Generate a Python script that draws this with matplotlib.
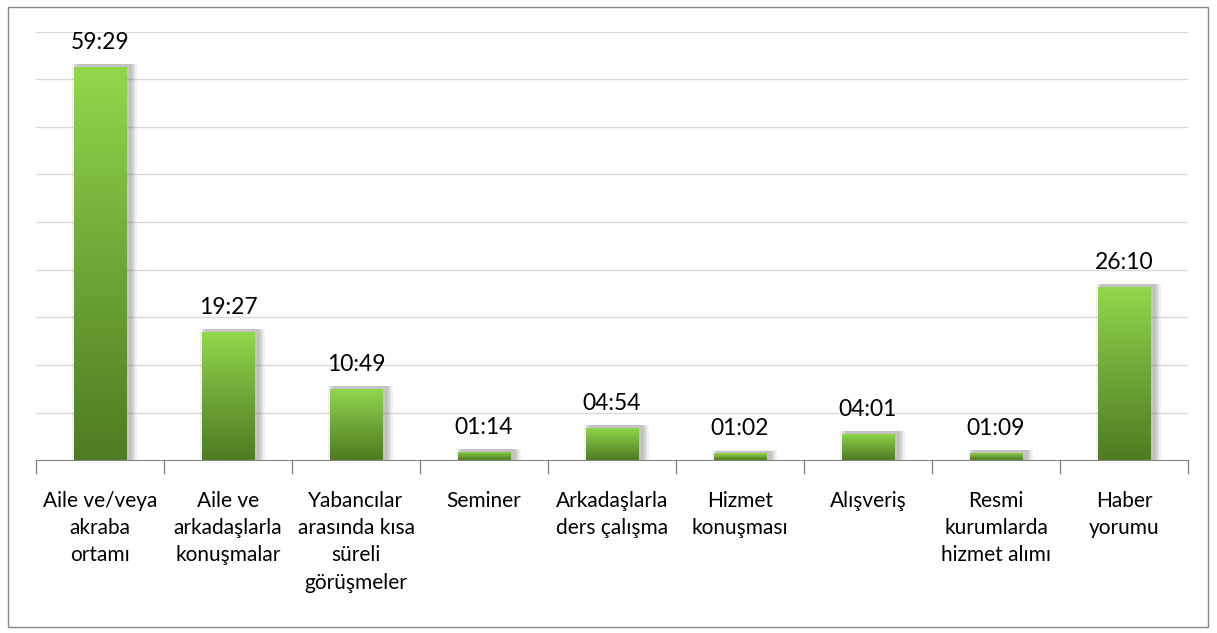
import numpy as np
import matplotlib.pyplot as plt
from matplotlib.patches import Rectangle
from matplotlib.colors import LinearSegmentedColormap

categories = [
    "Aile ve/veya\nakraba\nortamı",
    "Aile ve\narkadaşlarla\nkonuşmalar",
    "Yabancılar\narasında kısa\nsüreli\ngörüşmeler",
    "Seminer",
    "Arkadaşlarla\nders çalışma",
    "Hizmet\nkonuşması",
    "Alışveriş",
    "Resmi\nkurumlarda\nhizmet alımı",
    "Haber\nyorumu",
]
durations = ["59:29", "19:27", "10:49", "01:14", "04:54", "01:02", "04:01", "01:09", "26:10"]


def to_seconds(s):
    m, sec = s.split(":")
    return int(m) * 60 + int(sec)


values = np.array([to_seconds(d) for d in durations])

plt.rcParams["font.family"] = ["Lato", "DejaVu Sans"]

fig = plt.figure(figsize=(12.17, 6.33), dpi=100)
ax = fig.add_axes([0.0296, 0.273, 0.9466, 0.677])

step = 432
ax.set_ylim(0, 9 * step)
ax.set_xlim(-0.5, len(values) - 0.5)
ax.set_yticks(np.arange(1, 10) * step)
ax.yaxis.grid(True, color="#d9d9d9", lw=1)
ax.set_axisbelow(True)
ax.tick_params(axis="y", length=0, labelleft=False)
ax.tick_params(axis="x", length=0, labelbottom=False)
for s in ["top", "right", "left"]:
    ax.spines[s].set_visible(False)
ax.spines["bottom"].set_color("#868686")

# ticks between categories
for b in np.arange(-0.5, len(values), 1.0):
    ax.plot([b, b], [0, -0.03], transform=ax.get_xaxis_transform(),
            color="#868686", lw=1, clip_on=False)

cmap = LinearSegmentedColormap.from_list("g", ["#4e7c22", "#6ea836", "#92d84c"])
grad = np.linspace(0, 1, 256).reshape(-1, 1)
w = 0.41

for i, v in enumerate(values):
    x0 = i - w / 2
    # soft shadow
    for k, a in enumerate([0.07, 0.08, 0.09, 0.11]):
        off = 0.012 * (4 - k)
        ax.add_patch(Rectangle((x0 + 0.035 - off, 0), w + off * 2,
                               v + step * 0.055 + off * 60,
                               color="#404040", alpha=a, lw=0, zorder=2))
    bar = ax.bar(i, v, width=w, color="none", zorder=3)[0]
    im = ax.imshow(grad, extent=[x0, x0 + w, 0, v], origin="lower",
                   cmap=cmap, aspect="auto", zorder=3)
    im.set_clip_path(bar)
    ax.annotate(durations[i], (i, v), xytext=(0, 10), textcoords="offset points",
                ha="center", va="bottom", fontsize=16.5, color="#000000")
    ax.text(i, -0.072, categories[i], transform=ax.get_xaxis_transform(),
            ha="center", va="top", fontsize=15, linespacing=1.45)

ax.set_xlim(-0.5, len(values) - 0.5)
ax.set_ylim(0, 9 * step)

fig.patches.append(Rectangle((8 / 1217, 6 / 633), 1200 / 1217, 620 / 633,
                             transform=fig.transFigure, fill=False,
                             edgecolor="#868686", lw=1))

fig.savefig("out.png", dpi=100)
